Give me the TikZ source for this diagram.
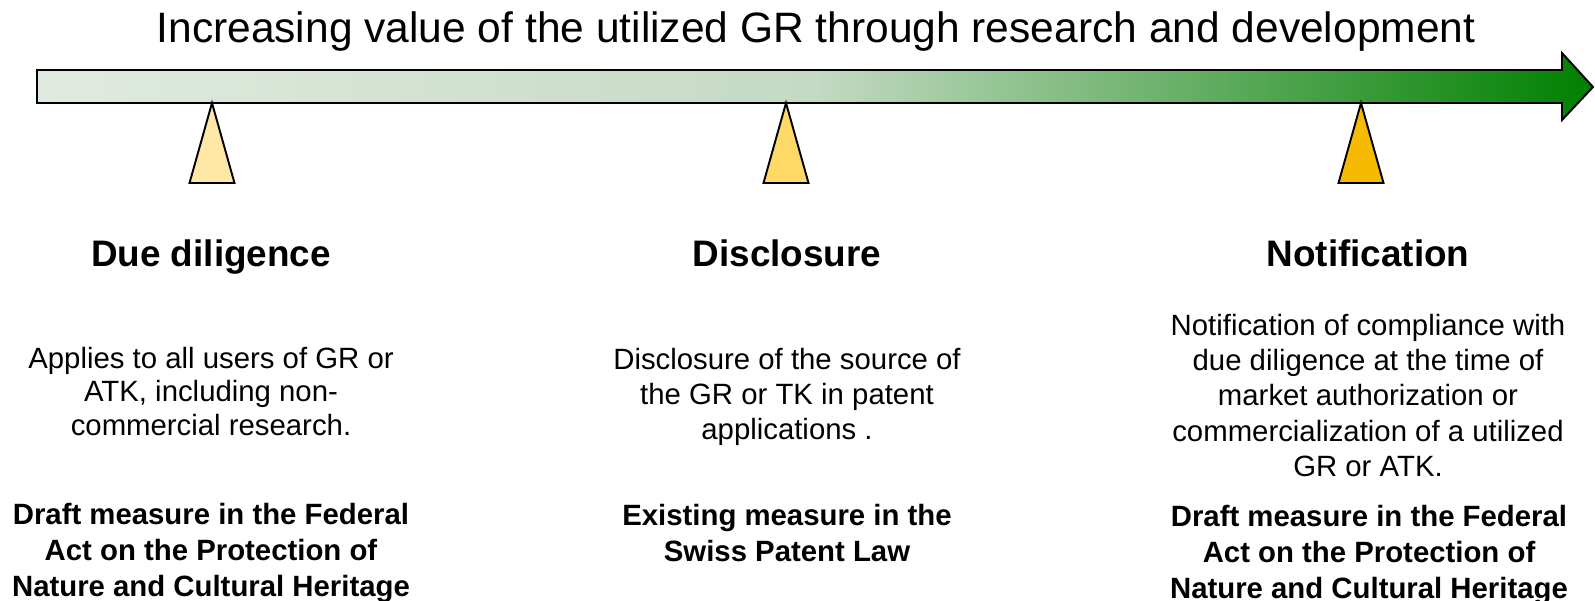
\documentclass[tikz,border=0pt]{standalone}
\usepackage{fontspec}
\setmainfont{Liberation Sans}
\usetikzlibrary{positioning}

\definecolor{barpale}{HTML}{E1EAE0}
\definecolor{barmid}{HTML}{C4DAC3}
\definecolor{bargreen}{HTML}{008000}
\definecolor{goldlight}{HTML}{FFE8A6}
\definecolor{goldmid}{HTML}{FFD966}
\definecolor{golddark}{HTML}{F6BA00}

% the path box runs from 25bp to 75bp
\pgfdeclarehorizontalshading{valueshade}{100bp}{%
  color(0bp)=(barpale); color(25bp)=(barpale); color(50bp)=(barmid);
  color(75bp)=(bargreen); color(100bp)=(bargreen)}

\tikzset{
  outline/.style={draw=black, line width=1.1pt, line join=miter},
  title/.style={font=\fontsize{24.2}{28}\selectfont, inner sep=0pt},
  heading/.style={font=\fontsize{21}{24}\selectfont\bfseries, inner sep=0pt, anchor=base},
  bodytext/.style={font=\fontsize{16.7}{20}\selectfont, align=center, inner sep=0pt, anchor=north},
  lawtext/.style={font=\fontsize{16.7}{20.4}\selectfont\bfseries, align=center, inner sep=0pt, anchor=north},
}

\begin{document}
\begin{tikzpicture}[x=0.02cm, y=-0.02cm]

    \useasboundingbox (0,0) rectangle (1595,601);

    % the value arrow
    \draw[outline, shading=valueshade]
    (37,70) -- (1562,70) -- (1562,53) -- (1593,87) -- (1562,120)
    -- (1562,103) -- (37,103) -- cycle;
    \node[title, anchor=base] (titel) at (816,43)
    {Increasing value of the utilized GR through research and development};

    % the three markers
    \draw[outline, fill=goldlight] (212,103) -- (234.5,183) -- (189.5,183) -- cycle;
    \draw[outline, fill=goldmid] (786,103) -- (808.5,183) -- (763.5,183) -- cycle;
    \draw[outline, fill=golddark] (1361,103) -- (1383.5,183) -- (1338.5,183) -- cycle;

    % due diligence
    \node[heading] (diligence) at (211,266) {Due diligence};
    \node[bodytext, font=\fontsize{16.7}{19}\selectfont] (diligencetext) at (211,347)
    {Applies to all users of GR or\\ATK, including non-\\commercial research.};
    \node[lawtext] (diligencelaw) at (211,503)
    {Draft measure in the Federal\\Act on the Protection of\\Nature and Cultural Heritage};

    % disclosure
    \node[heading] (disclosure) at (787,266) {Disclosure};
    \node[bodytext] (disclosuretext) at (787,348)
    {Disclosure of the source of\\the GR or TK in patent\\applications .};
    \node[lawtext] (disclosurelaw) at (787,504)
    {Existing measure in the\\Swiss Patent Law};

    % notification
    \node[heading] (notification) at (1368,266) {Notification};
    \node[bodytext] (notificationtext) at (1368,314)
    {Notification of compliance with\\due diligence at the time of\\market authorization or\\commercialization of a utilized\\GR or ATK.};
    \node[lawtext] (notificationlaw) at (1369,505)
    {Draft measure in the Federal\\Act on the Protection of\\Nature and Cultural Heritage};

\end{tikzpicture}
\end{document}
